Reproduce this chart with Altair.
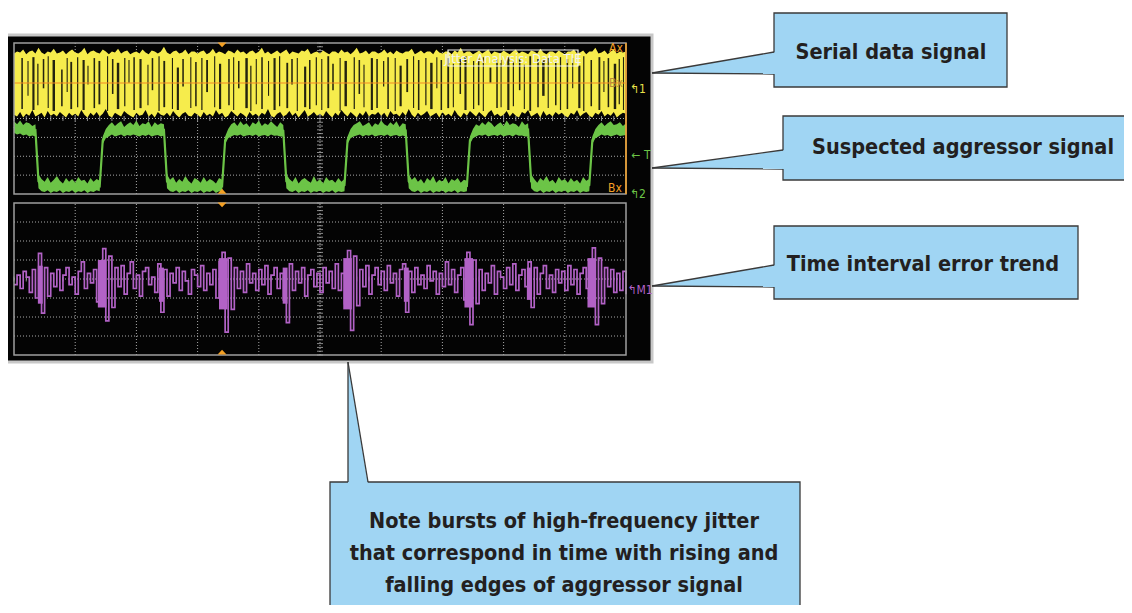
import altair as alt
import pandas as pd

# ---------------------------------------------------------------------------
# DATA  (time in screen divisions 0..10, amplitude in screen divisions -4..4)
# ---------------------------------------------------------------------------
SAMPLE_DIV = 0.05  # time base: one sample every 0.05 division

# Channel 1: serial data signal (yellow envelope, upper / lower edge)
yellow_top = [
    3.45,3.55,3.50,3.65,3.40,3.55,3.60,3.45,3.75,3.50,3.40,3.55,3.50,3.70,3.45,3.50,3.60,3.40,3.55,3.65,
    3.50,3.45,3.55,3.75,3.40,3.55,3.60,3.50,3.45,3.65,3.55,3.40,3.55,3.50,3.70,3.45,3.55,3.60,3.40,3.50,
    3.55,3.45,3.65,3.50,3.40,3.60,3.55,3.45,3.55,3.80,3.50,3.40,3.55,3.60,3.45,3.50,3.65,3.40,3.55,3.55,
    3.45,3.55,3.60,3.40,3.50,3.70,3.45,3.55,3.50,3.40,3.60,3.55,3.45,3.65,3.50,3.55,3.40,3.55,3.60,3.45,
    3.55,3.75,3.45,3.55,3.40,3.50,3.60,3.45,3.55,3.65,3.40,3.55,3.50,3.45,3.60,3.55,3.70,3.40,3.50,3.55,
    3.45,3.60,3.50,3.40,3.55,3.55,3.45,3.65,3.50,3.55,3.40,3.55,3.75,3.45,3.50,3.60,3.40,3.55,3.55,3.45,
    3.50,3.65,3.45,3.55,3.40,3.60,3.50,3.45,3.55,3.55,3.70,3.40,3.50,3.60,3.45,3.55,3.55,3.40,3.65,3.50,
    3.45,3.55,3.55,3.40,3.60,3.50,3.75,3.45,3.55,3.55,3.40,3.50,3.60,3.45,3.55,3.65,3.40,3.55,3.50,3.45,
    3.60,3.50,3.40,3.55,3.65,3.45,3.55,3.50,3.40,3.60,3.55,3.45,3.70,3.50,3.40,3.55,3.55,3.45,3.60,3.50,
    3.40,3.55,3.55,3.65,3.45,3.50,3.60,3.40,3.55,3.55,3.75,3.45,3.50,3.60,3.40,3.55,3.65,3.45,3.55,3.50,3.55,
]
yellow_bot = [
    0.20,0.10,0.35,0.05,0.25,0.15,0.45,0.10,0.20,0.30,0.05,0.40,0.15,0.25,0.10,0.35,0.20,0.05,0.30,0.15,
    0.25,0.10,0.45,0.20,0.05,0.30,0.15,0.35,0.10,0.25,0.50,0.15,0.05,0.30,0.20,0.10,0.40,0.25,0.15,0.05,
    0.30,0.15,0.20,0.45,0.10,0.25,0.05,0.35,0.20,0.15,0.30,0.10,0.40,0.20,0.05,0.25,0.35,0.15,0.10,0.30,
    0.20,0.05,0.35,0.15,0.25,0.10,0.45,0.20,0.30,0.05,0.15,0.40,0.25,0.10,0.30,0.20,0.05,0.35,0.15,0.25,
    0.10,0.30,0.20,0.50,0.15,0.05,0.25,0.35,0.10,0.20,0.40,0.15,0.30,0.05,0.25,0.45,0.10,0.20,0.35,0.15,
    0.25,0.10,0.40,0.20,0.05,0.30,0.15,0.45,0.25,0.10,0.35,0.20,0.05,0.30,0.15,0.40,0.10,0.25,0.20,0.35,
    0.15,0.30,0.05,0.40,0.20,0.25,0.10,0.35,0.15,0.50,0.20,0.05,0.30,0.15,0.25,0.40,0.10,0.20,0.30,0.05,
    0.35,0.15,0.25,0.10,0.45,0.20,0.05,0.30,0.15,0.40,0.25,0.10,0.35,0.20,0.05,0.30,0.45,0.15,0.25,0.10,
    0.20,0.40,0.10,0.30,0.15,0.05,0.35,0.25,0.45,0.10,0.20,0.30,0.05,0.40,0.15,0.25,0.10,0.35,0.20,0.30,
    0.15,0.05,0.30,0.20,0.45,0.10,0.25,0.35,0.15,0.05,0.30,0.20,0.40,0.10,0.25,0.15,0.35,0.05,0.20,0.30,0.25,
]

# dark bit-transition streaks inside the yellow envelope
gap_x = [
    0.12,0.22,0.30,0.38,0.47,0.55,0.63,0.77,0.86,0.92,
    1.03,1.12,1.20,1.30,1.38,1.52,1.60,1.68,1.80,1.87,1.95,
    2.05,2.18,2.25,2.36,2.44,2.58,2.66,2.75,2.88,2.96,
    3.06,3.14,3.27,3.35,3.50,3.58,3.66,3.78,3.86,3.95,
    4.04,4.15,4.24,4.33,4.45,4.53,4.62,4.74,4.82,4.93,
    5.02,5.12,5.20,5.32,5.40,5.55,5.63,5.71,5.83,5.92,
    6.03,6.10,6.22,6.30,6.41,6.52,6.60,6.72,6.80,6.90,6.97,
    7.08,7.17,7.28,7.36,7.50,7.58,7.66,7.77,7.88,7.95,
    8.06,8.15,8.25,8.33,8.42,8.55,8.63,8.72,8.84,8.92,
    9.03,9.12,9.22,9.30,9.42,9.55,9.63,9.70,9.80,9.88,9.95,
]
gap_w = [
    0.025,0.018,0.035,0.020,0.025,0.018,0.040,0.025,0.018,0.030,
    0.020,0.035,0.018,0.025,0.030,0.018,0.025,0.040,0.020,0.018,0.025,
    0.035,0.018,0.025,0.020,0.030,0.018,0.035,0.025,0.018,0.025,
    0.020,0.030,0.018,0.035,0.025,0.018,0.025,0.040,0.020,0.018,
    0.025,0.018,0.035,0.020,0.030,0.025,0.018,0.035,0.025,0.020,
    0.018,0.030,0.025,0.018,0.040,0.020,0.025,0.018,0.035,0.025,
    0.020,0.025,0.018,0.035,0.030,0.018,0.025,0.020,0.040,0.018,0.025,
    0.030,0.018,0.025,0.035,0.020,0.025,0.018,0.030,0.025,0.018,
    0.035,0.020,0.025,0.018,0.030,0.025,0.040,0.018,0.025,0.020,
    0.025,0.018,0.035,0.020,0.025,0.030,0.018,0.025,0.040,0.020,0.018,
]
gap_top = [
    3.20,3.05,3.25,2.90,3.15,3.30,3.10,2.60,3.20,3.00,
    3.25,3.10,2.80,3.20,3.05,3.30,3.15,2.95,3.20,3.10,3.25,
    3.15,2.85,3.20,3.30,3.05,3.20,2.70,3.15,3.25,3.00,
    3.20,3.10,3.30,2.90,3.15,3.25,3.05,3.20,2.80,3.15,
    3.25,3.05,3.20,3.30,2.95,3.15,3.20,2.75,3.10,3.25,
    3.15,3.30,2.90,3.20,3.05,3.25,3.10,2.85,3.20,3.15,
    3.05,3.25,3.20,2.80,3.15,3.30,3.10,3.20,2.95,3.25,3.10,
    3.20,2.90,3.15,3.30,3.05,3.20,3.25,2.70,3.15,3.10,
    3.25,3.05,3.20,2.85,3.30,3.15,3.10,3.20,2.95,3.25,
    3.15,3.20,2.80,3.30,3.10,3.25,3.05,3.20,2.90,3.15,3.25,
]
gap_bot = [
    0.50,1.20,0.45,0.70,1.60,0.55,0.40,0.65,1.40,0.50,
    0.60,0.45,1.80,0.55,0.75,0.40,1.30,0.50,0.65,1.90,0.45,
    0.55,0.70,1.50,0.40,0.60,0.50,0.45,1.70,0.55,0.65,
    0.45,1.40,0.60,0.50,0.70,0.45,1.60,0.55,0.40,0.75,
    0.50,1.20,0.45,0.65,0.55,1.80,0.40,0.60,0.50,0.70,
    0.45,0.55,1.50,0.40,0.65,0.50,1.30,0.60,0.45,0.55,
    1.70,0.50,0.40,0.65,1.40,0.55,0.45,0.70,0.50,1.60,0.45,
    0.55,0.60,1.30,0.45,0.50,0.70,0.40,1.90,0.55,0.60,
    0.45,0.65,1.50,0.50,0.40,0.60,1.20,0.55,0.70,0.45,
    0.50,1.60,0.55,0.40,0.65,0.45,1.40,0.60,0.50,0.75,0.45,
]

# Channel 2: suspected aggressor (green), upper / lower edge of the noisy trace
green_top = [
    -0.15,-0.30,-0.10,-0.35,-0.20,-0.25,-0.40,-0.30,
    -2.95,-3.20,-3.35,-3.10,-3.40,-3.25,-3.05,-3.30,-3.45,-3.15,-3.35,-3.20,-3.40,-3.10,-3.30,-3.25,-3.45,-3.15,-3.35,-3.20,-3.30,
    -0.95,-0.55,-0.35,-0.20,-0.40,-0.25,-0.15,-0.45,-0.30,-0.20,-0.35,-0.10,-0.40,-0.25,-0.30,-0.15,-0.45,-0.20,-0.35,-0.25,-0.30,
    -2.95,-3.25,-3.10,-3.40,-3.20,-3.35,-3.05,-3.30,-3.45,-3.15,-3.25,-3.40,-3.10,-3.35,-3.20,-3.30,-3.45,-3.15,-3.25,
    -0.95,-0.55,-0.30,-0.20,-0.40,-0.15,-0.35,-0.25,-0.45,-0.20,-0.30,-0.10,-0.40,-0.25,-0.35,-0.15,-0.30,-0.45,-0.20,-0.35,
    -2.95,-3.20,-3.35,-3.10,-3.45,-3.25,-3.15,-3.30,-3.40,-3.05,-3.35,-3.20,-3.45,-3.10,-3.30,-3.25,-3.40,-3.15,-3.35,-3.20,
    -0.95,-0.55,-0.35,-0.25,-0.15,-0.40,-0.30,-0.20,-0.45,-0.25,-0.35,-0.10,-0.30,-0.40,-0.20,-0.35,-0.15,-0.45,-0.25,-0.30,
    -2.95,-3.25,-3.10,-3.35,-3.20,-3.45,-3.15,-3.30,-3.05,-3.40,-3.25,-3.35,-3.10,-3.45,-3.20,-3.30,-3.15,-3.40,-3.25,-3.30,
    -0.95,-0.55,-0.30,-0.40,-0.20,-0.35,-0.15,-0.25,-0.45,-0.30,-0.20,-0.40,-0.10,-0.35,-0.25,-0.30,-0.45,-0.15,-0.35,-0.25,
    -2.95,-3.20,-3.40,-3.15,-3.30,-3.05,-3.35,-3.25,-3.45,-3.10,-3.30,-3.20,-3.40,-3.15,-3.35,-3.25,-3.45,-3.10,-3.30,-3.20,
    -0.95,-0.55,-0.35,-0.20,-0.40,-0.25,-0.15,-0.35,-0.30,-0.20,-0.40,-0.25,
]
green_bot = [
    -0.75,-0.85,-0.80,-0.90,-0.85,-0.95,-0.90,-0.95,
    -3.70,-3.85,-3.90,-3.80,-3.95,-3.85,-3.90,-3.80,-3.95,-3.85,-3.90,-3.80,-3.95,-3.85,-3.90,-3.80,-3.95,-3.85,-3.90,-3.80,-3.85,
    -1.35,-1.05,-0.95,-0.85,-0.95,-0.90,-0.85,-0.95,-0.88,-0.92,-0.85,-0.90,-0.95,-0.87,-0.93,-0.85,-0.95,-0.90,-0.88,-0.95,-0.90,
    -3.70,-3.85,-3.90,-3.80,-3.95,-3.85,-3.90,-3.80,-3.95,-3.85,-3.90,-3.80,-3.95,-3.85,-3.90,-3.80,-3.95,-3.85,-3.90,
    -1.35,-1.05,-0.95,-0.88,-0.92,-0.85,-0.95,-0.90,-0.87,-0.93,-0.85,-0.95,-0.90,-0.88,-0.95,-0.85,-0.92,-0.90,-0.95,-0.95,
    -3.70,-3.85,-3.90,-3.80,-3.95,-3.85,-3.90,-3.80,-3.95,-3.85,-3.90,-3.80,-3.95,-3.85,-3.90,-3.80,-3.95,-3.85,-3.90,-3.85,
    -1.35,-1.05,-0.95,-0.90,-0.85,-0.95,-0.88,-0.92,-0.85,-0.95,-0.90,-0.87,-0.93,-0.85,-0.95,-0.90,-0.88,-0.95,-0.90,-0.95,
    -3.70,-3.85,-3.90,-3.80,-3.95,-3.85,-3.90,-3.80,-3.95,-3.85,-3.90,-3.80,-3.95,-3.85,-3.90,-3.80,-3.95,-3.85,-3.90,-3.85,
    -1.35,-1.05,-0.95,-0.88,-0.92,-0.85,-0.95,-0.90,-0.87,-0.93,-0.85,-0.95,-0.90,-0.88,-0.95,-0.85,-0.92,-0.90,-0.95,-0.95,
    -3.70,-3.85,-3.90,-3.80,-3.95,-3.85,-3.90,-3.80,-3.95,-3.85,-3.90,-3.80,-3.95,-3.85,-3.90,-3.80,-3.95,-3.85,-3.90,-3.85,
    -1.35,-1.05,-0.95,-0.85,-0.92,-0.88,-0.95,-0.90,-0.85,-0.93,-0.90,-0.88,
]

# Math channel M1: time interval error trend (purple)
tie_trend = [
    -0.3,0.2,-0.5,0.4,0.1,-0.7,0.5,-1.0,1.35,-1.8,0.6,-0.9,0.3,-0.4,0.5,-0.6,0.2,0.6,-0.3,0.1,
    -0.8,0.4,0.9,-0.5,0.3,-0.2,0.5,-1.2,0.8,1.6,-2.2,1.2,-1.5,0.6,-0.4,0.7,-0.8,0.3,0.9,-0.5,
    0.2,-0.9,0.4,0.6,-0.3,0.1,-0.7,0.8,-1.75,0.5,-0.9,0.3,-0.2,0.6,-0.6,0.4,-0.1,-0.8,0.5,0.2,
    -0.4,0.7,-0.6,0.3,-0.3,0.5,-1.0,0.9,1.4,-2.8,1.1,-1.6,0.6,-0.5,0.4,-0.7,0.8,-0.2,0.3,-0.6,
    0.5,-0.3,0.7,-0.8,0.2,0.6,-0.5,0.3,-1.1,-2.3,0.8,-0.6,0.4,-0.2,0.6,-0.9,0.2,0.5,-0.4,0.3,
    -0.7,0.6,-0.2,0.4,-0.5,0.8,-0.6,0.3,-1.3,1.5,-2.7,1.2,-1.4,0.5,-0.4,0.7,-0.8,0.2,0.6,-0.3,
    0.4,-0.6,0.7,-0.2,0.3,-0.9,0.5,0.8,-1.75,0.4,-0.7,0.6,-0.3,0.2,-0.5,0.7,-0.1,0.4,-0.8,0.3,
    -0.4,0.9,-0.3,0.5,-0.7,0.2,0.6,-1.1,1.4,-2.4,1.0,-1.3,0.5,-0.6,0.3,-0.2,0.7,-0.8,0.4,0.1,
    -0.5,0.6,-0.3,0.8,-0.6,0.2,0.5,-0.4,0.9,-1.5,0.6,-0.8,0.3,0.7,-0.5,0.2,-0.7,0.5,-0.2,0.4,
    -0.6,0.7,-0.3,0.5,-0.8,0.3,0.6,-0.5,-1.2,1.64,-2.4,1.1,-1.3,0.6,-0.4,0.5,-0.7,0.3,-0.6,0.4,-0.8,
]
# dense jitter bursts (filled cores) at the aggressor edges
burst_start = [0.39, 1.37, 2.37, 3.35, 4.39, 5.38, 6.37, 7.36, 8.38, 9.37]
burst_end   = [0.47, 1.51, 2.45, 3.49, 4.47, 5.52, 6.45, 7.50, 8.46, 9.51]
burst_hi    = [0.7, 1.0, 0.6, 1.1, 0.6, 1.1, 0.6, 1.1, 0.6, 1.1]
burst_lo    = [-1.3, -1.5, -1.2, -1.6, -1.3, -1.6, -1.2, -1.5, -1.1, -1.5]

ch1_marker_level = 1.88      # orange reference line on channel 1
trigger_time = 3.40          # orange triangle markers

# graticule
grid_cols = [1, 2, 3, 4, 5, 6, 7, 8, 9]
grid_rows = [-3, -2, -1, 0, 1, 2, 3]

# texts
scope_title = "Jitter Analysis: Data TIE"
callout_texts = ["Serial data signal", "Suspected aggressor signal", "Time interval error trend"]
note_lines = ["Note bursts of high-frequency jitter",
              "that correspond in time with rising and",
              "falling edges of aggressor signal"]

n = len(yellow_top)
assert len(yellow_bot) == n and len(green_top) == n and len(green_bot) == n and len(tie_trend) == n
assert len(gap_x) == len(gap_w) == len(gap_top) == len(gap_bot)
t_base = [round(i * SAMPLE_DIV, 3) for i in range(n)]

# ---------------------------------------------------------------------------
# LAYOUT / STYLE
# ---------------------------------------------------------------------------
W, H = 1116, 597
PX = alt.Scale(domain=[8, 8 + W], range=[0, W], nice=False, zero=False)
PY = alt.Scale(domain=[8, 8 + H], range=[0, H], nice=False, zero=False)
DX = alt.Scale(domain=[0, 10], range=[6, 618], nice=False, zero=False)
UY = alt.Scale(domain=[-4, 4], range=[186, 35], nice=False, zero=False)
LY = alt.Scale(domain=[-4, 4], range=[347, 195], nice=False, zero=False)

YELLOW = "#f6ec4c"
STREAK = "#23230f"
GREEN = "#6cc447"
PURPLE = "#b262c6"
ORANGE = "#f4a024"
GRIDC = "#a9a9a9"
BOXFILL = "#a0d5f3"
BOXLINE = "#3a3a3a"
TEXTC = "#231f20"
CALLFONT = "Liberation Sans Narrow, DejaVu Sans Condensed, sans-serif"


def enc(xs, ys, x="x", y="y", x2=None, y2=None, **kw):
    e = dict(x=alt.X(x, type="quantitative", scale=xs, axis=None),
             y=alt.Y(y, type="quantitative", scale=ys, axis=None))
    if x2:
        e["x2"] = alt.X2(x2)
    if y2:
        e["y2"] = alt.Y2(y2)
    e.update(kw)
    return e


layers = []

# scope bezel
bezel = pd.DataFrame({"x": [5], "x2": [652], "y": [35], "y2": [362]})
layers.append(alt.Chart(bezel).mark_rect(fill="#040404", stroke="#c8c8c8", strokeWidth=3)
              .encode(**enc(PX, PY, x2="x2", y2="y2")))

# graticule for both panels
grid_rows_df = pd.DataFrame(
    [{"x": c, "x2": c, "y": -4, "y2": 4} for c in grid_cols]
    + [{"x": 0, "x2": 10, "y": r, "y2": r} for r in grid_rows])
for ys in (UY, LY):
    layers.append(alt.Chart(grid_rows_df).mark_rule(color=GRIDC, strokeDash=[1, 2], strokeWidth=1)
                  .encode(**enc(DX, ys, x2="x2", y2="y2")))
    vt = pd.DataFrame({"x": [5] * 41, "y": [round(-4 + 0.2 * i, 2) for i in range(41)]})
    layers.append(alt.Chart(vt).mark_tick(orient="horizontal", size=6, thickness=1, color="#c4c4c4")
                  .encode(**enc(DX, ys)))
    ht = pd.DataFrame({"x": [round(0.2 * i, 2) for i in range(51)], "y": [0] * 51})
    layers.append(alt.Chart(ht).mark_tick(orient="vertical", size=5, thickness=1, color="#c4c4c4")
                  .encode(**enc(DX, ys)))

# channel 1 (yellow)
ydf = pd.DataFrame({"t": t_base, "top": yellow_top, "bot": yellow_bot})
layers.append(alt.Chart(ydf).mark_area(color=YELLOW, opacity=1)
              .encode(**enc(DX, UY, x="t", y="top", y2="bot")))
gdf = pd.DataFrame({"gx": gap_x, "gw": gap_w, "gt": gap_top, "gb": gap_bot})
layers.append(alt.Chart(gdf).transform_calculate(gx2="datum.gx + datum.gw")
              .mark_rect(color=STREAK)
              .encode(**enc(DX, UY, x="gx", x2="gx2", y="gt", y2="gb")))

# channel 2 (green)
grdf = pd.DataFrame({"t": t_base, "top": green_top, "bot": green_bot})
layers.append(alt.Chart(grdf).mark_area(color=GREEN, opacity=1)
              .encode(**enc(DX, UY, x="t", y="top", y2="bot")))
layers.append(alt.Chart(grdf).transform_calculate(mid="(datum.top + datum.bot) / 2")
              .mark_line(color=GREEN, strokeWidth=2.2)
              .encode(**enc(DX, UY, x="t", y="mid")))

# orange marker line on channel 1
odf = pd.DataFrame({"x": [0], "x2": [10], "y": [ch1_marker_level]})
layers.append(alt.Chart(odf).mark_rule(color="#f28a22", strokeWidth=1.2)
              .encode(**enc(DX, UY, x2="x2")))

# TIE trend (purple)
tdf = pd.DataFrame({"t": t_base, "v": tie_trend})
layers.append(alt.Chart(tdf).mark_line(color=PURPLE, strokeWidth=1.7, interpolate="step-after")
              .encode(**enc(DX, LY, x="t", y="v")))
bdf = pd.DataFrame({"x": burst_start, "x2": burst_end, "y": burst_hi, "y2": burst_lo})
layers.append(alt.Chart(bdf).mark_rect(color=PURPLE)
              .encode(**enc(DX, LY, x2="x2", y2="y2")))

# panel frames
pdf = pd.DataFrame({"x": [14, 14], "x2": [626, 626], "y": [43, 203], "y2": [194, 355]})
layers.append(alt.Chart(pdf).mark_rect(fillOpacity=0, stroke="#9e9e9e", strokeWidth=1.5)
              .encode(**enc(PX, PY, x2="x2", y2="y2")))
rdf = pd.DataFrame({"x": [626], "y": [43], "y2": [194]})
layers.append(alt.Chart(rdf).mark_rule(color=ORANGE, strokeWidth=1.5)
              .encode(**enc(PX, PY, y2="y2")))

# trigger triangles
tri_dn = pd.DataFrame({"x": [trigger_time], "y": [3.9]})
tri_up = pd.DataFrame({"x": [trigger_time], "y": [-3.85]})
for ys in (UY, LY):
    layers.append(alt.Chart(tri_dn).mark_point(shape="M-1,-0.55L1,-0.55L0,0.55Z", filled=True,
                                               size=80, color=ORANGE, opacity=1)
                  .encode(**enc(DX, ys)))
    layers.append(alt.Chart(tri_up).mark_point(shape="M-1,0.55L1,0.55L0,-0.55Z", filled=True,
                                               size=80, color=ORANGE, opacity=1)
                  .encode(**enc(DX, ys)))

# scope title box
jb = pd.DataFrame({"x": [448], "x2": [578], "y": [50], "y2": [66]})
layers.append(alt.Chart(jb).mark_rect(fillOpacity=0, stroke="#f4f4f4", strokeWidth=1.2)
              .encode(**enc(PX, PY, x2="x2", y2="y2")))
jt = pd.DataFrame({"x": [513], "y": [58.5], "label": [scope_title]})
layers.append(alt.Chart(jt).mark_text(font="Liberation Sans Narrow, DejaVu Sans Condensed, sans-serif",
                                      fontSize=13, color="#f2f2f2", align="center", baseline="middle")
              .encode(**enc(PX, PY, text="label:N")))

# scope side labels
side = pd.DataFrame({
    "x": [616, 616, 615, 638, 641, 638, 640],
    "y": [48, 83, 188, 89, 155, 194, 290],
    "label": ["Ax", "Bx", "Bx", "↰1", "← T", "↰2", "↰M1"],
    "c": [ORANGE, "#b88a3a", ORANGE, "#e9e24a", GREEN, GREEN, PURPLE],
})
layers.append(alt.Chart(side).mark_text(font="DejaVu Sans Condensed, DejaVu Sans", fontSize=12,
                                        align="center", baseline="middle")
              .encode(**enc(PX, PY, text="label:N", color=alt.Color("c:N", scale=None))))

# callout boxes
boxes = pd.DataFrame({"x": [774, 783, 774, 330], "x2": [1007, 1140, 1078, 800],
                      "y": [13, 116, 226, 482], "y2": [87, 180, 299, 640]})
layers.append(alt.Chart(boxes).mark_rect(fill=BOXFILL, stroke=BOXLINE, strokeWidth=1.3)
              .encode(**enc(PX, PY, x2="x2", y2="y2")))

# pointer fills (leftward pointers)
ptr = pd.DataFrame({
    "g": ["a", "a", "b", "b", "c", "c"],
    "x": [652, 776.5, 652, 785.5, 652, 776.5],
    "y": [73, 52, 168, 150, 286, 265],
    "y2": [73, 74, 168, 169, 286, 287],
})
layers.append(alt.Chart(ptr).mark_area(color=BOXFILL, opacity=1)
              .encode(**enc(PX, PY, y2="y2", detail="g:N")))
# pointer fill (downward pointer)
ptr2 = pd.DataFrame({"y": [362, 484], "x": [348, 348], "x2": [348, 368]})
layers.append(alt.Chart(ptr2).mark_area(color=BOXFILL, opacity=1, orient="horizontal")
              .encode(**enc(PX, PY, x2="x2")))
# pointer outlines
pl = pd.DataFrame({
    "x": [652, 652, 652, 652, 652, 652, 348, 348],
    "y": [73, 73, 168, 168, 286, 286, 362, 362],
    "x2": [774, 774, 783, 783, 774, 774, 348, 368],
    "y2": [52, 74, 150, 169, 265, 287, 482, 482],
})
layers.append(alt.Chart(pl).mark_rule(color=BOXLINE, strokeWidth=1.3)
              .encode(**enc(PX, PY, x2="x2", y2="y2")))

# callout texts
ct = pd.DataFrame({"x": [891, 963, 923], "y": [53, 148, 265], "label": callout_texts})
layers.append(alt.Chart(ct).mark_text(font=CALLFONT, fontWeight="bold", fontSize=21.5, color=TEXTC,
                                      align="center", baseline="middle")
              .encode(**enc(PX, PY, text="label:N")))
nt = pd.DataFrame({"x": [564, 564, 564], "y": [522, 554, 586], "label": note_lines})
layers.append(alt.Chart(nt).mark_text(font=CALLFONT, fontWeight="bold", fontSize=21.5, color=TEXTC,
                                      align="center", baseline="middle")
              .encode(**enc(PX, PY, text="label:N")))

chart = (alt.layer(*layers)
         .resolve_scale(x="independent", y="independent")
         .properties(width=W, height=H, padding=0, autosize=alt.AutoSizeParams(type="none"),
                     background="white")
         .configure_view(stroke=None))

chart.save("out.html", embed_options={"renderer": "svg", "actions": False})
